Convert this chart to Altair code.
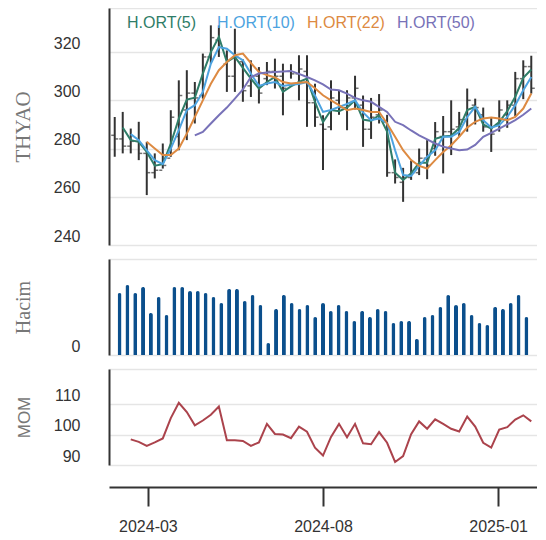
import altair as alt
import pandas as pd

# ---------------- data ----------------
dates = pd.date_range("2024-02-01", periods=53, freq="7D")

high = [293.1, 295.2, 288.3, 291.1, 282.8, 278.0, 282.1, 295.9, 308.3, 312.5,
        307.6, 319.4, 331.1, 331.1, 320.7, 329.7, 317.0, 316.6, 313.8, 315.9,
        317.3, 315.2, 315.0, 318.7, 318.7, 306.9, 293.8, 308.3, 304.0, 304.2,
        310.2, 302.0, 301.0, 302.6, 294.0, 275.5, 272.0, 275.0, 280.0, 283.5,
        291.0, 293.5, 300.0, 295.2, 304.9, 300.7, 297.0, 293.0, 300.0, 300.0,
        311.8, 316.6, 318.5]
low = [276.6, 278.0, 278.0, 275.2, 260.7, 267.6, 271.7, 276.6, 279.3, 283.5,
       290.4, 300.7, 315.2, 318.0, 303.5, 303.5, 299.4, 301.4, 298.7, 306.3,
       304.9, 293.8, 309.0, 300.0, 289.0, 289.0, 271.1, 287.6, 294.0, 287.6,
       296.2, 280.7, 284.0, 290.4, 268.3, 265.5, 257.9, 267.0, 269.0, 267.3,
       277.0, 269.7, 277.3, 284.9, 287.0, 290.0, 287.0, 278.6, 287.0, 288.6,
       293.5, 300.5, 302.8]
open_ = [285.5, 284, 281, 283, 278, 270, 271, 276, 285, 296,
         303, 302, 318, 325, 315, 310, 316, 306, 310, 309,
         312, 310, 312, 311, 312, 299, 290, 289, 300, 297,
         301, 298, 288, 294, 291, 270, 266, 268, 270, 276,
         280, 285, 287, 289, 292, 298, 294, 289, 290, 294,
         298, 309, 314]
close = [284, 281, 283, 278, 270, 271, 273, 293, 302, 303,
         301, 318, 326, 322, 310, 318, 304, 310, 303, 312,
         310, 305, 311, 313, 299, 293, 288, 301, 297, 301,
         305, 288, 293, 296, 270, 268, 268, 270, 276, 273,
         287, 287, 288, 292, 300, 297, 289, 286, 296, 298,
         309, 314, 305]

ma5 = [None, 288.7, 283.5, 282.8, 278.6, 272.9, 273.5, 282.1, 292.4, 300.3,
       301.1, 311.1, 320.0, 326.3, 315.9, 318.0, 313.5, 309.0, 304.9, 307.6,
       309.7, 303.5, 305.8, 307.6, 309.0, 299.4, 291.0, 296.0, 295.5, 297.0,
       300.0, 292.0, 291.5, 293.8, 287.0, 270.0, 267.0, 269.7, 274.1, 274.1,
       284.0, 285.0, 285.3, 288.5, 296.0, 297.3, 290.0, 288.3, 291.0, 295.5,
       301.5, 309.3, 312.8]
ma10 = [None, None, 286.0, 283.5, 279.3, 275.2, 273.5, 280.0, 287.6, 295.9,
        298.0, 303.5, 315.2, 322.1, 321.4, 318.7, 316.6, 311.0, 306.0, 307.0,
        307.6, 306.0, 306.5, 306.8, 307.6, 302.0, 295.2, 296.0, 297.3, 298.5,
        300.0, 295.0, 291.8, 292.5, 290.5, 279.3, 269.0, 268.6, 272.8, 276.6,
        279.3, 284.9, 284.9, 286.9, 293.1, 297.3, 291.8, 288.7, 289.7, 293.1,
        298.0, 304.2, 309.7]
ma22 = [None, None, None, None, 282.8, 280.0, 277.3, 277.3, 280.0, 286.2,
        293.1, 300.0, 306.9, 312.5, 315.9, 318.7, 319.4, 315.5, 311.8, 310.5,
        309.5, 307.6, 307.0, 307.3, 307.6, 305.0, 302.1, 300.0, 298.0, 295.9,
        296.6, 296.0, 295.2, 295.2, 290.4, 284.9, 279.3, 275.2, 272.8, 271.7,
        275.2, 278.6, 281.4, 284.9, 288.7, 291.1, 292.5, 292.9, 292.5, 291.8,
        293.1, 296.6, 302.8]
ma50 = [None, None, None, None, None, None, None, None, None, None,
        285.5, 286.9, 290.4, 293.8, 297.0, 300.7, 304.5, 309.7, 311.1, 311.5,
        311.8, 312.0, 312.2, 311.0, 309.7, 308.3, 306.6, 304.5, 304.2, 302.8,
        301.0, 300.0, 299.4, 297.3, 295.2, 291.1, 289.7, 287.5, 285.5, 283.8,
        282.1, 280.8, 280.0, 279.3, 279.6, 281.5, 284.9, 286.5, 288.3, 290.0,
        291.8, 294.0, 296.6]

volume = [186, 210, 186, 204, 126, 174, 120, 204, 204, 192,
          192, 186, 174, 156, 198, 198, 162, 180, 150, 36,
          138, 180, 156, 138, 150, 114, 156, 132, 150, 132,
          102, 132, 114, 138, 132, 96, 102, 102, 48, 114,
          120, 144, 180, 150, 156, 120, 96, 90, 144, 138,
          156, 180, 114]

mom = [None, None, 98.4, 97.6, 96.3, 97.4, 98.7, 105.4, 110.4, 107.4,
       103.0, 104.6, 106.5, 109.2, 98.1, 98.1, 97.9, 96.3, 97.4, 103.5,
       100.2, 100.0, 98.8, 102.6, 100.9, 95.7, 93.1, 99.2, 103.5, 99.1,
       103.5, 97.1, 96.8, 100.8, 97.3, 91.0, 92.9, 100.1, 104.3, 101.9,
       105.0, 103.5, 101.9, 101.0, 105.9, 102.6, 97.3, 95.7, 101.6, 102.4,
       104.9, 106.3, 104.3]

names = ["H.ORT(5)", "H.ORT(10)", "H.ORT(22)", "H.ORT(50)"]
colors = ["#2f7d68", "#4da3e0", "#dd8a42", "#7872b8"]
date_ticks = [alt.DateTime(year=2024, month=3, date=1),
              alt.DateTime(year=2024, month=8, date=1),
              alt.DateTime(year=2025, month=1, date=1)]

# ---------------- tables ----------------
price_df = pd.DataFrame({"date": dates, "open": open_, "high": high,
                         "low": low, "close": close})
rows = []
for name, arr in zip(names, [ma5, ma10, ma22, ma50]):
    for d, v in zip(dates, arr):
        if v is not None:
            rows.append({"date": d, "series": name, "value": v})
ma_df = pd.DataFrame(rows)
vol_df = pd.DataFrame({"date": dates, "volume": volume})
mom_df = pd.DataFrame({"date": dates, "mom": mom}).dropna()

# ---------------- styling helpers ----------------
W = 428
x_scale = alt.Scale(domain=[alt.DateTime(year=2024, month=1, date=27),
                            alt.DateTime(year=2025, month=2, date=4)])
xnone = alt.X("date:T", scale=x_scale, axis=None)


def y_axis(title, values, cutoff, tfont, tsize):
    return alt.Axis(values=values,
                    labelExpr=f"datum.value > {cutoff} ? '' : datum.label",
                    title=title, titleFont=tfont, titleFontSize=tsize,
                    titleFontWeight="normal", titleColor="#777777",
                    titlePadding=20, ticks=False, labelPadding=29,
                    labelOffset=-9, labelFont="Liberation Sans",
                    labelFontSize=16, labelColor="#333333",
                    domainColor="#333333", domainWidth=2,
                    gridColor="#e5e5e5", gridWidth=1.5,
                    minExtent=56, maxExtent=56)


# ---------------- price panel ----------------
p_scale = alt.Scale(domain=[240, 338.3], nice=False, zero=False)
p_axis = y_axis("THYAO", [240, 260, 280, 300, 320, 338.3], 330,
                "Liberation Serif", 21)

hl = alt.Chart(price_df).mark_rule(color="#333333", strokeWidth=2).encode(
    x=xnone, y=alt.Y("low:Q", scale=p_scale, axis=p_axis), y2="high:Q")
op = alt.Chart(price_df).mark_tick(orient="horizontal", size=3, thickness=1.5,
                                   xOffset=-2, color="#333333").encode(
    x=xnone, y=alt.Y("open:Q", scale=p_scale, axis=p_axis))
cl = alt.Chart(price_df).mark_tick(orient="horizontal", size=3, thickness=1.5,
                                   xOffset=2, color="#333333").encode(
    x=xnone, y=alt.Y("close:Q", scale=p_scale, axis=p_axis))

label_color = ("datum.label == 'H.ORT(5)' ? '#2f7d68' : "
               "datum.label == 'H.ORT(10)' ? '#4da3e0' : "
               "datum.label == 'H.ORT(22)' ? '#dd8a42' : '#7872b8'")
ma = alt.Chart(ma_df).mark_line(strokeWidth=2).encode(
    x=xnone,
    y=alt.Y("value:Q", scale=p_scale, axis=p_axis),
    color=alt.Color("series:N", scale=alt.Scale(domain=names, range=colors),
                    legend=alt.Legend(orient="none", legendX=18, legendY=7,
                                      direction="horizontal", title=None,
                                      symbolSize=1, symbolOpacity=0,
                                      symbolStrokeWidth=0,
                                      labelOffset={"expr": "-16"},
                                      gridAlign="all",
                                      columnPadding=12, labelFontSize=16,
                                      labelFont="Liberation Sans",
                                      labelColor={"expr": label_color})),
)
top = alt.layer(hl, op, cl, ma).properties(width=W, height=237)

# ---------------- volume panel ----------------
vol = alt.Chart(vol_df).mark_bar(width=4, color="#0b4f8c",
                                 cornerRadiusTopLeft=2,
                                 cornerRadiusTopRight=2).encode(
    x=xnone,
    y=alt.Y("volume:Q", scale=alt.Scale(domain=[0, 288], nice=False),
            axis=y_axis("Hacim", [0, 288], 200, "Liberation Serif", 20)),
).properties(width=W, height=96)

# ---------------- momentum panel ----------------
mom_chart = alt.Chart(mom_df).mark_line(color="#ab434c", strokeWidth=2).encode(
    x=alt.X("date:T", scale=x_scale,
            axis=alt.Axis(values=date_ticks, format="%Y-%m", title=None,
                          grid=False, tickSize=19, tickWidth=2,
                          tickColor="#333333", domainColor="#333333",
                          domainWidth=2, offset=22, labelPadding=12,
                          labelFontSize=16, labelFont="Liberation Sans",
                          labelColor="#333333")),
    y=alt.Y("mom:Q", scale=alt.Scale(domain=[90, 121.5], nice=False, zero=False),
            axis=y_axis("MOM", [90, 100, 110, 121.5], 115, "Liberation Sans", 17)),
).properties(width=W, height=96)

chart = alt.vconcat(top, vol, mom_chart, spacing=14).properties(
    padding={"left": 4, "top": 0, "right": 0, "bottom": 0}
).configure_view(strokeWidth=0)

chart.save("out.html", embed_options={"renderer": "svg", "actions": False})
